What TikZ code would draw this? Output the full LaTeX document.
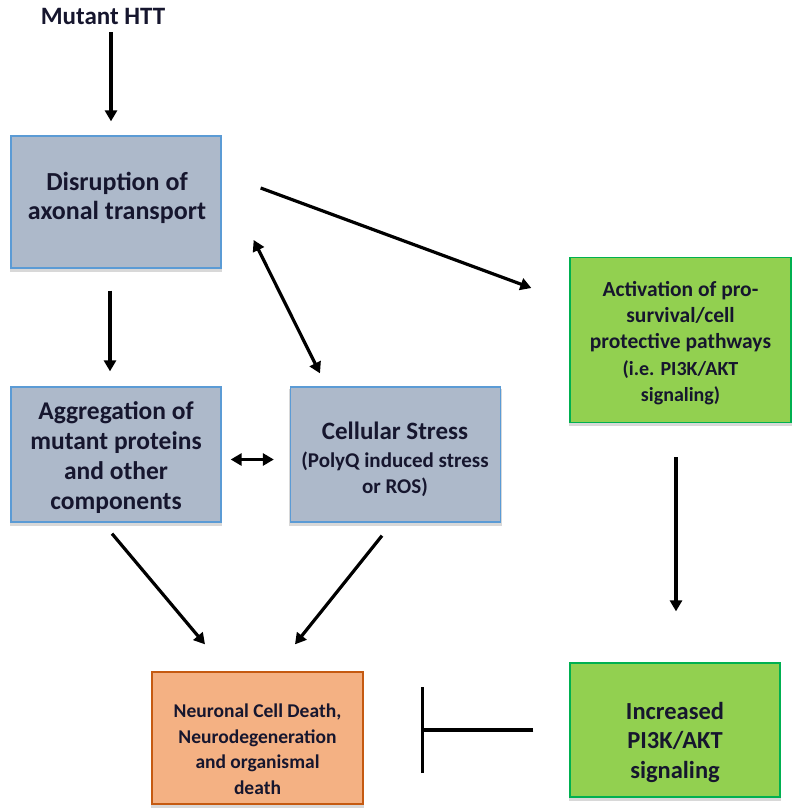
\documentclass[tikz,border=0pt]{standalone}
\usepackage{fontspec}
\setmainfont{Carlito}
\usetikzlibrary{arrows.meta,shadows}
\definecolor{bluefill}{HTML}{ADB9CA}
\definecolor{blueline}{HTML}{5B9BD5}
\definecolor{greenfill}{HTML}{92D050}
\definecolor{greenline}{HTML}{00B050}
\definecolor{orangefill}{HTML}{F4B183}
\definecolor{orangeline}{HTML}{C55A11}
\definecolor{txt}{HTML}{16162E}
\tikzset{
  box/.style={draw, line width=1.3pt, inner sep=0pt,
    drop shadow={shadow xshift=0pt, shadow yshift=-3pt, opacity=0.3, shadow scale=1.01}},
  bluebox/.style={box, fill=bluefill, draw=blueline},
  greenbox/.style={box, fill=greenfill, draw=greenline},
  orangebox/.style={box, fill=orangefill, draw=orangeline},
  lbl/.style={align=center, inner sep=0pt, text=txt},
  arr/.style={line width=3.2pt, -{Triangle[length=11pt,width=12pt]}},
  darr/.style={line width=3.2pt, {Triangle[length=11pt,width=12pt]}-{Triangle[length=11pt,width=12pt]}},
  inh/.style={line width=3.2pt, -{Bar[width=86pt,line width=3.2pt]}}
}
\begin{document}
\begin{tikzpicture}[x=1pt,y=-1pt]
\useasboundingbox[fill=white] (0,0) rectangle (800,812);

\node[lbl, font=\bfseries\fontsize{25}{30}\selectfont] (mut) at (103,16) {Mutant HTT};

% boxes
\node[bluebox, minimum width=210pt, minimum height=132pt] (dis) at (116,202) {};
\node[bluebox, minimum width=210pt, minimum height=135pt] (agg) at (116,454.5) {};
\node[bluebox, minimum width=210pt, minimum height=135pt] (cel) at (395.5,454.5) {};
\node[greenbox, minimum width=221pt, minimum height=165pt] (act) at (680.5,340) {};
\node[orangebox, minimum width=211pt, minimum height=132pt] (neu) at (257.5,738) {};
\node[greenbox, minimum width=210pt, minimum height=134pt] (inc) at (675,730) {};

% texts
\node[lbl, font=\bfseries\fontsize{26}{29.5}\selectfont] (disT) at (117,198)
  {Disruption of\\axonal transport};
\node[lbl, font=\bfseries\fontsize{25.5}{30}\selectfont] (aggT) at (116,458)
  {Aggregation of\\mutant proteins\\and other\\components};
\node[lbl, font=\bfseries\fontsize{21}{26}\selectfont] (celT) at (395,459)
  {{\fontsize{25}{27}\selectfont Cellular Stress}\\[2pt]
   (PolyQ induced stress\\or ROS)};
\node[lbl, font=\bfseries\fontsize{21.5}{26.3}\selectfont] (actT) at (680.5,343)
  {Activation of pro-\\survival/cell\\protective pathways\\
   {\fontsize{20}{26.3}\selectfont (i.e. PI3K/AKT}\\{\fontsize{20}{26.3}\selectfont signaling)}};
\node[lbl, font=\bfseries\fontsize{19.5}{25.5}\selectfont] (neuT) at (257.5,749)
  {Neuronal Cell Death,\\Neurodegeneration\\and organismal\\death};
\node[lbl, font=\bfseries\fontsize{24.5}{29.5}\selectfont] (incT) at (675,742)
  {Increased\\PI3K/AKT\\signaling};

% connectors
\draw[arr] ([xshift=8pt,yshift=-8pt]mut.south) -- ([xshift=-5pt,yshift=14pt]dis.north);
\draw[arr] ([xshift=-6pt,yshift=-22pt]dis.south) -- ([xshift=-6pt,yshift=15pt]agg.north);
\draw[arr] ([xshift=39pt,yshift=14pt]dis.east) -- ([xshift=-38pt,yshift=52pt]act.west);
\draw[darr] ([xshift=32pt,yshift=-38pt]dis.east) -- ([xshift=-75.5pt,yshift=13pt]cel.north);
\draw[darr] ([xshift=9pt,yshift=-5pt]agg.east) -- ([xshift=-16pt,yshift=-5pt]cel.west);
\draw[arr] ([xshift=-4pt,yshift=-11pt]agg.south) -- ([xshift=-52.5pt,yshift=27pt]neu.north);
\draw[arr] ([xshift=-13.5pt,yshift=-13pt]cel.south) -- ([xshift=37.5pt,yshift=27pt]neu.north);
\draw[arr] ([xshift=-4.5pt,yshift=-34pt]act.south) -- ([xshift=1pt,yshift=51pt]inc.north);
\draw[inh] ([xshift=-36pt]inc.west) -- ([xshift=57pt,yshift=8pt]neu.east);
\end{tikzpicture}
\end{document}
